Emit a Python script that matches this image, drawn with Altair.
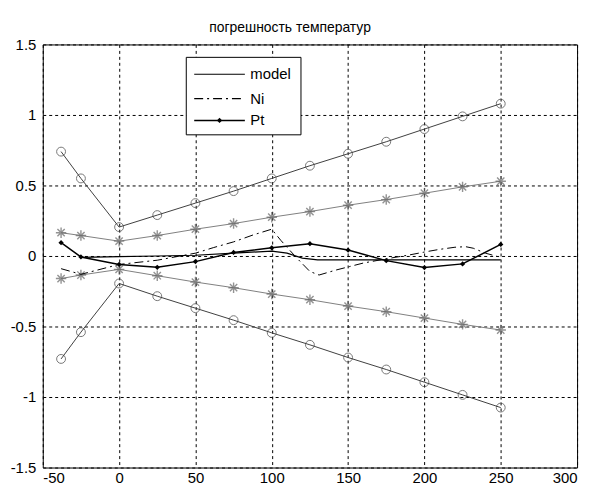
import altair as alt
import pandas as pd

# ---------------- data ----------------
x_pts = [-38, -25, 0, 25, 50, 75, 100, 125, 150, 175, 200, 225, 250]
circle_upper = [0.74, 0.55, 0.205, 0.29, 0.375, 0.46, 0.55, 0.64, 0.725, 0.81, 0.9, 0.99, 1.08]
circle_lower = [-0.73, -0.54, -0.195, -0.285, -0.37, -0.455, -0.545, -0.63, -0.72, -0.805, -0.895, -0.985, -1.075]
star_upper = [0.165, 0.145, 0.105, 0.145, 0.19, 0.23, 0.275, 0.315, 0.36, 0.4, 0.445, 0.49, 0.53]
star_lower = [-0.16, -0.135, -0.095, -0.14, -0.185, -0.225, -0.27, -0.31, -0.355, -0.395, -0.44, -0.485, -0.525]
pt_vals = [0.094, -0.007, -0.06, -0.08, -0.04, 0.025, 0.058, 0.087, 0.042, -0.033, -0.082, -0.056, 0.082]

model_x = [-25, 0, 25, 50, 75, 100, 110, 120, 130, 250]
model_y = [-0.01, -0.005, 0.0, 0.005, 0.02, 0.035, 0.02, -0.015, -0.028, -0.028]

ni_x = [-38, -25, 0, 25, 50, 62, 75, 88, 100, 106, 116, 125, 131, 142, 151, 160, 175,
        190, 201, 210, 220, 227, 232, 240, 250]
ni_y = [-0.09, -0.13, -0.06, -0.03, 0.02, 0.06, 0.1, 0.15, 0.19, 0.11, -0.01, -0.11, -0.135,
        -0.1, -0.075, -0.05, -0.02, 0.007, 0.03, 0.047, 0.062, 0.066, 0.055, 0.02, -0.01]

x_ticks = [-50, 0, 50, 100, 150, 200, 250, 300]
y_ticks = [-1.5, -1, -0.5, 0, 0.5, 1, 1.5]
legend_labels = ["model", "Ni", "Pt"]
title_text = "погрешность температур"

FONT = "Liberation Sans"

def df(xv, yv):
    return pd.DataFrame({"x": xv, "y": yv})

X = alt.X("x:Q", scale=alt.Scale(domain=[-50, 300], nice=False, zero=False),
          axis=alt.Axis(values=x_ticks, title=None, labelPadding=3,
                        labelExpr="datum.value + ''"))
Y = alt.Y("y:Q", scale=alt.Scale(domain=[-1.5, 1.5], nice=False, zero=False),
          axis=alt.Axis(values=y_ticks, title=None, labelPadding=7,
                        labelExpr="datum.value + ''"))

ASTERISK = "M-1,0L1,0M0,-1L0,1M-0.7,-0.7L0.7,0.7M-0.7,0.7L0.7,-0.7"

layers = []
for vals in (circle_upper, circle_lower):
    d = df(x_pts, vals)
    layers.append(alt.Chart(d).mark_line(color="#404040", strokeWidth=1).encode(x=X, y=Y))
    layers.append(alt.Chart(d).mark_point(shape="circle", filled=False, size=80,
                                          stroke="#404040", strokeWidth=1).encode(x=X, y=Y))
for vals in (star_upper, star_lower):
    d = df(x_pts, vals)
    layers.append(alt.Chart(d).mark_line(color="#808080", strokeWidth=1).encode(x=X, y=Y))
    layers.append(alt.Chart(d).mark_point(shape=ASTERISK, filled=False, size=110,
                                          stroke="#666666", strokeWidth=1.4).encode(x=X, y=Y))

layers.append(alt.Chart(df(model_x, model_y)).mark_line(color="black", strokeWidth=1.2)
              .encode(x=X, y=Y))
layers.append(alt.Chart(df(ni_x, ni_y)).mark_line(color="black", strokeWidth=1,
                                                  strokeDash=[9, 4, 2, 4]).encode(x=X, y=Y))
dpt = df(x_pts, pt_vals)
layers.append(alt.Chart(dpt).mark_line(color="black", strokeWidth=1.5).encode(x=X, y=Y))
layers.append(alt.Chart(dpt).mark_point(shape="diamond", filled=True, size=28,
                                        color="black", opacity=1).encode(x=X, y=Y))

# ---------------- legend box ----------------
ldf = pd.DataFrame({"label": legend_labels})
box = alt.Chart(ldf.head(1)).mark_rect(fill="white", stroke="black", strokeWidth=1).encode(
    x=alt.value(144.5), x2=alt.value(260), y=alt.value(13), y2=alt.value(91))
layers.append(box)
row_y = [30, 54.5, 76.5]
dashes = [None, [9, 4, 2, 4], None]
for i, lab in enumerate(legend_labels):
    sub = ldf.iloc[[i]]
    kw = dict(color="black", strokeWidth=1.2 if i != 2 else 1.5)
    if dashes[i]:
        kw["strokeDash"] = dashes[i]
    layers.append(alt.Chart(sub).mark_rule(**kw).encode(
        x=alt.value(152.5), x2=alt.value(203.5), y=alt.value(row_y[i])))
    layers.append(alt.Chart(sub).mark_text(align="left", baseline="middle", font=FONT,
                                           fontSize=15, color="black").encode(
        x=alt.value(209), y=alt.value(row_y[i]), text="label:N"))
layers.append(alt.Chart(ldf.iloc[[2]]).mark_point(shape="diamond", filled=True, size=28,
                                                  color="black", opacity=1).encode(
    x=alt.value(178), y=alt.value(row_y[2])))

chart = alt.layer(*layers).properties(
    width=538, height=426,
    title=alt.Title(title_text, font=FONT, fontSize=14, fontWeight="normal",
                    color="black", offset=3, dx=-20),
    autosize="none",
    padding={"left": 35, "top": 35, "right": 10, "bottom": 30},
    background="white",
).configure_view(stroke="black", strokeWidth=1
).configure_axis(
    labelFont=FONT, labelFontSize=15, labelColor="black",
    ticks=False, domain=False,
    grid=True, gridColor="#000", gridDash=[3, 3], gridWidth=1, gridOpacity=1,
)

chart.save("out.html", embed_options={"renderer": "svg", "actions": False})
